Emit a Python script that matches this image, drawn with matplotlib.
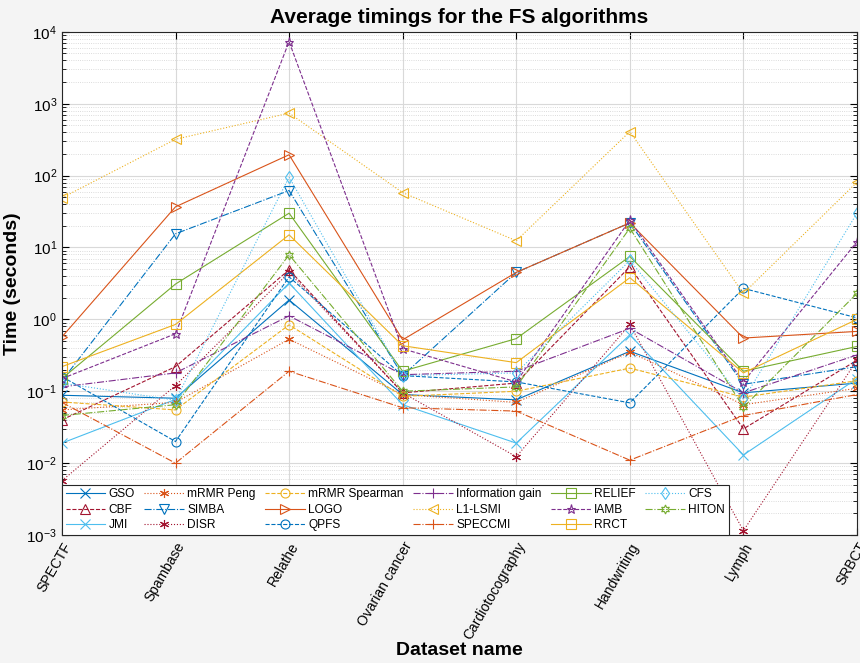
import numpy as np
import matplotlib
matplotlib.use("Agg")
import matplotlib.pyplot as plt
from matplotlib.ticker import LogLocator, NullFormatter

plt.rcParams['font.family'] = ['Liberation Sans', 'DejaVu Sans']

datasets = ["SPECTF", "Spambase", "Relathe", "Ovarian cancer",
            "Cardiotocography", "Handwriting", "Lymph", "SRBCT"]

gso = [0.088, 0.080, 1.86, 0.090, 0.076, 0.36, 0.095, 0.13]
cbf = [0.040, 0.22, 4.9, 0.095, 0.13, 5.4, 0.030, 0.27]
jmi = [0.019, 0.077, 3.2, 0.065, 0.019, 0.61, 0.013, 0.15]
mrmr_peng = [0.055, 0.070, 0.53, 0.090, 0.070, 0.35, 0.065, 0.11]
simba = [0.14, 15.5, 62, 0.165, 4.5, 22, 0.125, 0.22]
disr = [0.0057, 0.12, 4.5, 0.095, 0.0123, 0.85, 0.00115, 0.27]
mrmr_spearman = [0.071, 0.055, 0.84, 0.085, 0.10, 0.21, 0.083, 0.14]
logo = [0.57, 36.8, 195, 0.52, 4.5, 22, 0.55, 0.68]
qpfs = [0.16, 0.020, 3.9, 0.165, 0.135, 0.069, 2.7, 1.05]
info_gain = [0.115, 0.18, 1.12, 0.17, 0.19, 0.75, 0.095, 0.32]
l1_lsmi = [49, 320, 740, 58, 12.4, 410, 2.3, 81]
speccmi = [0.070, 0.010, 0.19, 0.059, 0.053, 0.011, 0.046, 0.090]
relief = [0.15, 3.1, 30, 0.19, 0.54, 7.5, 0.19, 0.42]
iamb = [0.15, 0.63, 7300, 0.39, 0.135, 24, 0.135, 12]
rrct = [0.22, 0.85, 15, 0.43, 0.25, 3.8, 0.18, 1.0]
cfs = [0.13, 0.075, 95, 0.165, 0.18, 6.6, 0.077, 30]
hiton = [0.046, 0.065, 7.9, 0.10, 0.115, 18.6, 0.060, 2.3]

# MATLAB default colour order
BLUE, ORANGE, YELLOW = "#0072BD", "#D95319", "#EDB120"
PURPLE, GREEN, LBLUE, DRED = "#7E2F8E", "#77AC30", "#4DBEEE", "#A2142F"
ASTER = (6, 2, 0)
HEXA = (6, 1, 0)

series = [
    ("GSO", gso, BLUE, "x", "-"),
    ("CBF", cbf, DRED, "^", "--"),
    ("JMI", jmi, LBLUE, "x", "-"),
    ("mRMR Peng", mrmr_peng, ORANGE, ASTER, ":"),
    ("SIMBA", simba, BLUE, "v", "-."),
    ("DISR", disr, DRED, ASTER, ":"),
    ("mRMR Spearman", mrmr_spearman, YELLOW, "o", "--"),
    ("LOGO", logo, ORANGE, ">", "-"),
    ("QPFS", qpfs, BLUE, "o", "--"),
    ("Information gain", info_gain, PURPLE, "+", "-."),
    ("L1-LSMI", l1_lsmi, YELLOW, "<", ":"),
    ("SPECCMI", speccmi, ORANGE, "+", "-."),
    ("RELIEF", relief, GREEN, "s", "-"),
    ("IAMB", iamb, PURPLE, "*", "--"),
    ("RRCT", rrct, YELLOW, "s", "-"),
    ("CFS", cfs, LBLUE, "d", ":"),
    ("HITON", hiton, GREEN, HEXA, "-."),
]

fig = plt.figure(figsize=(8.6, 6.63), dpi=100, facecolor="#f4f4f4")
ax = fig.add_axes([0.072, 0.193, 0.9245, 0.759])
x = np.arange(1, len(datasets) + 1)

for name, vals, col, mk, ls in series:
    ax.plot(x, vals, color=col, linestyle=ls, linewidth=0.8, marker=mk,
            markersize=6.5, markerfacecolor="none", markeredgecolor=col,
            markeredgewidth=0.8, label=name)

ax.set_yscale("log")
ax.set_ylim(1e-3, 1e4)
ax.set_xlim(1, len(datasets))
ax.set_xticks(x)
ax.set_xticklabels(datasets, rotation=60, ha="right", rotation_mode="anchor",
                   fontsize=10)
ax.yaxis.set_major_locator(LogLocator(base=10, numticks=10))
ax.yaxis.set_minor_locator(LogLocator(base=10, subs=np.arange(2, 10), numticks=100))
ax.yaxis.set_minor_formatter(NullFormatter())
ax.tick_params(axis="both", which="both", direction="in", top=True, right=True)
ax.tick_params(axis="y", labelsize=11)
ax.tick_params(which="major", length=5)
ax.tick_params(which="minor", length=3)

ax.grid(True, which="major", color="#d9d9d9", linewidth=0.8, linestyle="-")
ax.grid(True, which="minor", axis="y", color="#d0d0d0", linewidth=0.6,
        linestyle=":")
ax.set_axisbelow(True)
for sp in ax.spines.values():
    sp.set_color("#262626")
    sp.set_linewidth(0.8)

ax.set_title("Average timings for the FS algorithms", fontsize=15,
             fontweight="bold", pad=6)
ax.set_xlabel("Dataset name", fontsize=14, fontweight="bold", labelpad=0)
ax.set_ylabel("Time (seconds)", fontsize=14, fontweight="bold", labelpad=4)

leg = ax.legend(ncol=6, loc="lower left", borderaxespad=0, fontsize=8.6,
                handlelength=3.3, handletextpad=0.3, columnspacing=0.8,
                labelspacing=0.3, borderpad=0.3, fancybox=False,
                framealpha=1, edgecolor="#262626")
leg.get_frame().set_linewidth(0.8)

fig.savefig("out.png", dpi=100, facecolor=fig.get_facecolor())
